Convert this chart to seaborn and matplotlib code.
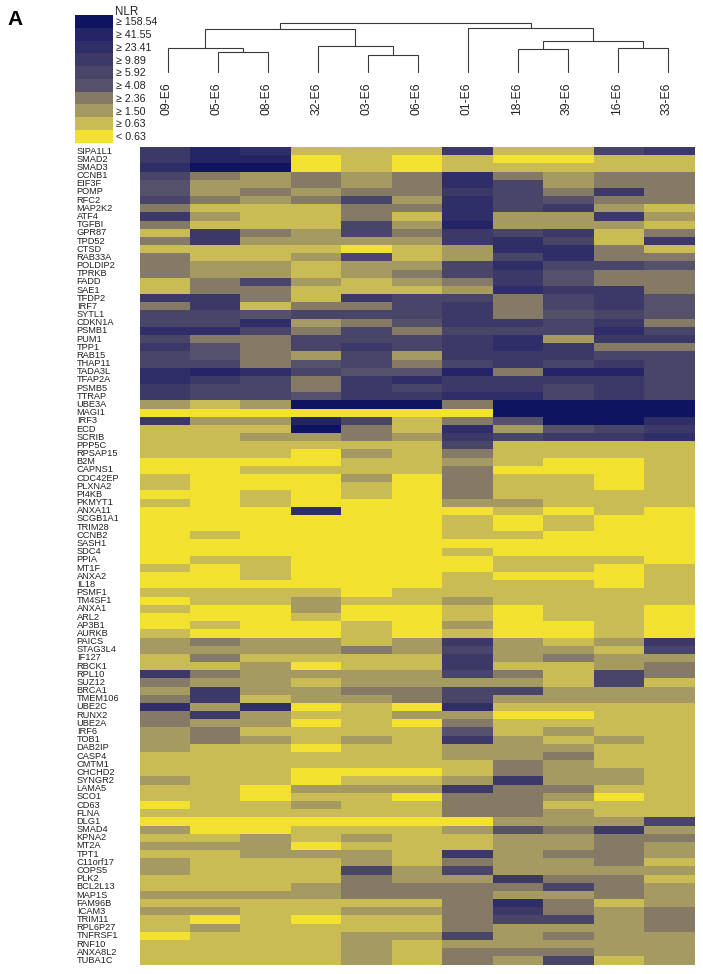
import numpy as np
import pandas as pd
import seaborn as sns
import matplotlib
matplotlib.use('Agg')
import matplotlib.pyplot as plt
from matplotlib.colors import ListedColormap
from matplotlib.transforms import Bbox

samples = ['09-E6', '05-E6', '08-E6', '32-E6', '03-E6', '06-E6', '01-E6', '18-E6', '39-E6', '16-E6', '33-E6']

genes = ['SIPA1L1', 'SMAD2', 'SMAD3', 'CCNB1', 'EIF3F', 'POMP', 'RFC2', 'MAP2K2', 'ATF4', 'TGFBI',
         'GPR87', 'TPD52', 'CTSD', 'RAB33A', 'POLDIP2', 'TPRKB', 'FADD', 'SAE1', 'TFDP2', 'IRF7',
         'SYTL1', 'CDKN1A', 'PSMB1', 'PUM1', 'TPP1', 'RAB15', 'THAP11', 'TADA3L', 'TFAP2A', 'PSMB5',
         'TTRAP', 'UBE3A', 'MAGI1', 'IRF3', 'ECD', 'SCRIB', 'PPP5C', 'RPSAP15', 'B2M', 'CAPNS1',
         'CDC42EP2', 'PLXNA2', 'PI4KB', 'PKMYT1', 'ANXA11', 'SCGB1A1', 'TRIM28', 'CCNB2', 'SASH1', 'SDC4',
         'PPIA', 'MT1F', 'ANXA2', 'IL18', 'PSMF1', 'TM4SF1', 'ANXA1', 'ARL2', 'AP3B1', 'AURKB',
         'PAICS', 'STAG3L4', 'IF127', 'RBCK1', 'RPL10', 'SUZ12', 'BRCA1', 'TMEM106B', 'UBE2C', 'RUNX2',
         'UBE2A', 'IRF6', 'TOB1', 'DAB2IP', 'CASP4', 'CMTM1', 'CHCHD2', 'SYNGR2', 'LAMA5', 'SCO1',
         'CD63', 'FLNA', 'DLG1', 'SMAD4', 'KPNA2', 'MT2A', 'TPT1', 'C11orf17', 'COPS5', 'PLK2',
         'BCL2L13', 'MAP1S', 'FAM96B', 'ICAM3', 'TRIM11', 'RPL6P27', 'TNFRSF12A', 'RNF10', 'ANXA8L2', 'TUBA1C']

# NLR bin of each cell, 0 is < 0.63 and 9 is >= 158.54
levels_a = [[6, 8, 7, 1, 1, 1, 6, 1, 1, 5, 6],
            [6, 8, 8, 0, 1, 0, 1, 0, 0, 1, 1],
            [7, 9, 9, 0, 1, 0, 1, 1, 1, 1, 1],
            [5, 3, 2, 3, 2, 3, 7, 3, 2, 3, 3],
            [4, 2, 2, 3, 2, 3, 7, 5, 2, 3, 3],
            [4, 2, 3, 2, 3, 3, 6, 5, 3, 6, 3],
            [5, 3, 2, 3, 5, 2, 7, 5, 4, 3, 3],
            [3, 1, 1, 1, 3, 3, 7, 5, 6, 2, 1],
            [6, 2, 1, 1, 3, 1, 7, 2, 2, 6, 2],
            [3, 1, 1, 1, 5, 2, 8, 2, 2, 2, 1],
            [1, 6, 3, 2, 5, 3, 6, 5, 6, 1, 3],
            [3, 6, 2, 2, 2, 2, 6, 7, 5, 1, 6],
            [1, 1, 1, 1, 0, 1, 2, 7, 7, 3, 1],
            [3, 1, 1, 2, 5, 1, 2, 5, 7, 3, 3],
            [3, 2, 2, 1, 2, 2, 5, 7, 5, 5, 4],
            [3, 2, 2, 1, 2, 3, 5, 6, 4, 3, 3],
            [1, 3, 5, 2, 1, 2, 3, 6, 4, 3, 3],
            [1, 3, 3, 1, 1, 1, 2, 7, 6, 6, 3],
            [6, 6, 3, 1, 6, 5, 5, 3, 5, 6, 4],
            [3, 6, 1, 3, 3, 5, 6, 3, 5, 6, 4]]
levels_b = [[5, 5, 4, 5, 5, 5, 6, 3, 4, 5, 4],
            [5, 5, 7, 2, 3, 4, 6, 6, 5, 6, 3],
            [7, 7, 5, 3, 5, 3, 5, 5, 5, 7, 5],
            [5, 3, 3, 5, 5, 5, 6, 7, 2, 6, 6],
            [6, 4, 3, 5, 6, 5, 6, 7, 6, 3, 3],
            [5, 4, 3, 2, 5, 2, 6, 6, 6, 5, 5],
            [5, 5, 3, 4, 5, 3, 5, 6, 5, 6, 5],
            [7, 8, 7, 5, 4, 4, 8, 3, 8, 8, 5],
            [7, 6, 5, 3, 6, 7, 6, 6, 6, 6, 5],
            [6, 5, 5, 3, 6, 5, 6, 6, 5, 6, 5],
            [6, 5, 5, 4, 6, 6, 7, 7, 5, 6, 5],
            [2, 1, 2, 9, 9, 9, 3, 9, 9, 9, 9],
            [0, 0, 0, 0, 0, 0, 0, 9, 9, 9, 9],
            [6, 2, 2, 8, 5, 1, 3, 4, 9, 9, 7],
            [1, 1, 1, 9, 3, 1, 7, 2, 4, 5, 6],
            [1, 1, 2, 2, 3, 2, 6, 5, 6, 6, 7],
            [1, 1, 1, 1, 1, 1, 5, 1, 1, 1, 1],
            [1, 1, 1, 0, 2, 1, 3, 1, 1, 1, 1],
            [0, 0, 0, 0, 1, 1, 2, 1, 0, 0, 1],
            [0, 0, 1, 1, 1, 1, 3, 0, 0, 0, 1]]
levels_c = [[1, 0, 0, 0, 2, 0, 3, 1, 1, 0, 1],
            [1, 0, 0, 0, 1, 0, 3, 1, 1, 0, 1],
            [0, 0, 1, 0, 1, 0, 3, 1, 1, 1, 1],
            [1, 0, 1, 0, 0, 0, 2, 2, 1, 1, 1],
            [0, 0, 0, 7, 0, 0, 0, 1, 0, 1, 0],
            [0, 0, 0, 0, 0, 0, 1, 0, 1, 0, 0],
            [0, 0, 0, 0, 0, 0, 1, 0, 1, 0, 0],
            [0, 1, 0, 0, 0, 0, 1, 1, 0, 0, 0],
            [0, 0, 0, 0, 0, 0, 0, 0, 0, 0, 0],
            [0, 0, 0, 0, 0, 0, 1, 0, 0, 0, 0],
            [0, 1, 1, 0, 0, 0, 0, 1, 1, 1, 0],
            [1, 0, 1, 0, 0, 0, 0, 1, 1, 0, 1],
            [0, 0, 1, 0, 0, 0, 1, 0, 0, 0, 1],
            [0, 0, 0, 0, 0, 0, 1, 1, 1, 0, 1],
            [1, 1, 1, 1, 0, 1, 1, 1, 1, 1, 1],
            [0, 1, 1, 2, 1, 1, 2, 1, 1, 1, 1],
            [1, 0, 0, 2, 0, 0, 1, 0, 1, 1, 0],
            [0, 0, 0, 1, 0, 0, 1, 0, 1, 1, 0],
            [0, 1, 0, 0, 1, 0, 2, 0, 0, 1, 0],
            [1, 0, 0, 0, 1, 0, 1, 0, 0, 1, 0]]
levels_d = [[2, 3, 2, 2, 1, 2, 6, 2, 1, 2, 6],
            [2, 2, 2, 2, 3, 2, 5, 2, 2, 1, 5],
            [1, 3, 1, 1, 1, 1, 6, 2, 3, 2, 2],
            [1, 1, 2, 0, 1, 1, 6, 1, 1, 2, 3],
            [6, 3, 2, 2, 2, 2, 5, 3, 1, 5, 3],
            [3, 2, 2, 1, 2, 2, 2, 2, 1, 5, 1],
            [2, 6, 2, 2, 3, 3, 5, 5, 2, 2, 2],
            [3, 6, 1, 2, 2, 3, 5, 2, 2, 2, 2],
            [7, 2, 7, 0, 1, 0, 7, 1, 1, 1, 1],
            [3, 6, 2, 1, 1, 2, 2, 0, 0, 1, 1],
            [3, 2, 2, 0, 1, 0, 3, 1, 1, 1, 1],
            [2, 3, 1, 1, 1, 1, 4, 1, 2, 1, 1],
            [2, 3, 2, 1, 2, 1, 6, 2, 1, 2, 1],
            [2, 1, 1, 0, 1, 1, 2, 2, 2, 1, 1],
            [1, 1, 1, 1, 1, 1, 2, 2, 3, 1, 1],
            [1, 1, 1, 1, 1, 1, 1, 3, 2, 1, 1],
            [1, 1, 1, 0, 0, 0, 1, 3, 2, 2, 1],
            [2, 1, 1, 0, 1, 1, 2, 6, 2, 2, 1],
            [1, 1, 0, 2, 2, 2, 6, 3, 3, 1, 1],
            [1, 1, 0, 1, 1, 0, 3, 3, 2, 0, 1]]
levels_e = [[0, 1, 1, 2, 1, 1, 3, 3, 1, 1, 1],
            [1, 1, 1, 1, 1, 1, 3, 3, 2, 1, 1],
            [0, 0, 0, 0, 0, 0, 0, 2, 2, 2, 5],
            [2, 0, 0, 1, 1, 1, 2, 4, 3, 6, 2],
            [1, 1, 2, 1, 2, 1, 1, 2, 2, 3, 3],
            [2, 2, 2, 0, 1, 1, 1, 2, 2, 3, 2],
            [1, 1, 2, 2, 2, 1, 6, 2, 3, 3, 2],
            [2, 1, 1, 1, 2, 1, 3, 2, 2, 3, 1],
            [2, 1, 1, 1, 5, 2, 5, 2, 2, 2, 2],
            [1, 1, 1, 1, 3, 2, 2, 6, 3, 3, 1],
            [1, 1, 1, 2, 3, 3, 3, 3, 5, 3, 2],
            [2, 2, 2, 2, 3, 3, 3, 2, 2, 3, 2],
            [1, 1, 1, 1, 1, 1, 3, 7, 3, 1, 2],
            [2, 2, 1, 1, 2, 2, 3, 6, 3, 2, 3],
            [1, 0, 1, 0, 1, 1, 3, 5, 5, 2, 3],
            [1, 2, 1, 1, 1, 1, 3, 2, 2, 2, 3],
            [0, 1, 1, 1, 2, 2, 5, 2, 3, 2, 2],
            [1, 1, 1, 1, 2, 1, 2, 2, 2, 2, 2],
            [1, 1, 1, 1, 2, 1, 3, 3, 3, 2, 2],
            [1, 1, 1, 1, 2, 1, 3, 2, 5, 1, 2]]

bin_labels = ['< 0.63', '≥ 0.63', '≥ 1.50', '≥ 2.36', '≥ 4.08', '≥ 5.92', '≥ 9.89', '≥ 23.41', '≥ 41.55', '≥ 158.54']
bin_colors = ['#f2e22f', '#c9bc55', '#a59a62', '#857a66', '#55516a', '#484569', '#3c3968', '#302e69', '#252466', '#0e145f']

# dendrogram merges: left node, right node, height (nodes 0-10 are the samples)
merge_left = [1, 0, 4, 3, 7, 9, 15, 12, 6, 18]
merge_right = [2, 11, 5, 13, 8, 10, 16, 14, 17, 19]
merge_height = [20.0, 24.0, 17.3, 26.6, 23.3, 24.0, 31.6, 43.0, 44.6, 49.6]

W, H = 703, 974


def px_axes(fig, x0, y0, x1, y1):
    # axes from pixel box, y counted from the top of the picture
    return fig.add_axes([x0 / W, 1 - y1 / H, (x1 - x0) / W, (y1 - y0) / H])


sns.set_style('white')
plt.rcParams['font.family'] = ['Liberation Sans', 'DejaVu Sans']

fig = plt.figure(figsize=(W / 100, H / 100), dpi=100)
cmap = ListedColormap(bin_colors)

# main heatmap
ax = px_axes(fig, 139.5, 147, 694.5, 964.5)
levels = pd.DataFrame(np.vstack([levels_a, levels_b, levels_c, levels_d, levels_e]), index=genes, columns=samples)
sns.heatmap(levels, cmap=cmap, vmin=-0.5, vmax=9.5, cbar=False, ax=ax, xticklabels=False, yticklabels=True)
ax.tick_params(axis='y', length=0, pad=45.2, labelsize=6.7, labelcolor='#222222')
label_clip = Bbox([[0, 0], [117.5, H]])
for lab in ax.get_yticklabels():
    lab.set_rotation(0)
    lab.set_horizontalalignment('left')
    lab.set_clip_box(label_clip)
    lab.set_clip_on(True)

# colour key
key = px_axes(fig, 75, 15, 113, 142.5)
key_df = pd.DataFrame({'NLR': list(range(9, -1, -1))}, index=bin_labels[::-1])
sns.heatmap(key_df, cmap=cmap, vmin=-0.5, vmax=9.5, cbar=False, ax=key, xticklabels=False, yticklabels=True)
key.yaxis.tick_right()
key.tick_params(axis='y', length=0, pad=1.8, labelsize=7.7, labelcolor='#222222')
for lab in key.get_yticklabels():
    lab.set_rotation(0)
fig.text(115.5 / W, 1 - 15 / H, 'NLR', fontsize=8.3, color='#222222', ha='left', va='baseline')

# dendrogram
den = px_axes(fig, 167.8, 22.7, 668.2, 72.3)
den.set_xlim(0, 10)
den.set_ylim(0, 49.6)
den.axis('off')
node_x = list(range(len(samples)))
node_h = [0.0] * len(samples)
for a, b, h in zip(merge_left, merge_right, merge_height):
    den.plot([node_x[a], node_x[a], node_x[b], node_x[b]], [node_h[a], h, h, node_h[b]],
             color='#3a3a3a', lw=0.8, clip_on=False, solid_joinstyle='miter')
    node_x.append((node_x[a] + node_x[b]) / 2)
    node_h.append(h)
for i, name in enumerate(samples):
    den.annotate(name, (i, 0), xytext=(-1, -7.2), textcoords='offset points', rotation=90,
                 ha='center', va='top', fontsize=8.8, color='#222222', annotation_clip=False)

fig.text(7 / W, 1 - 25 / H, 'A', fontsize=15, fontweight='bold', color='black', ha='left', va='baseline')

fig.savefig('out.png', dpi=100)
